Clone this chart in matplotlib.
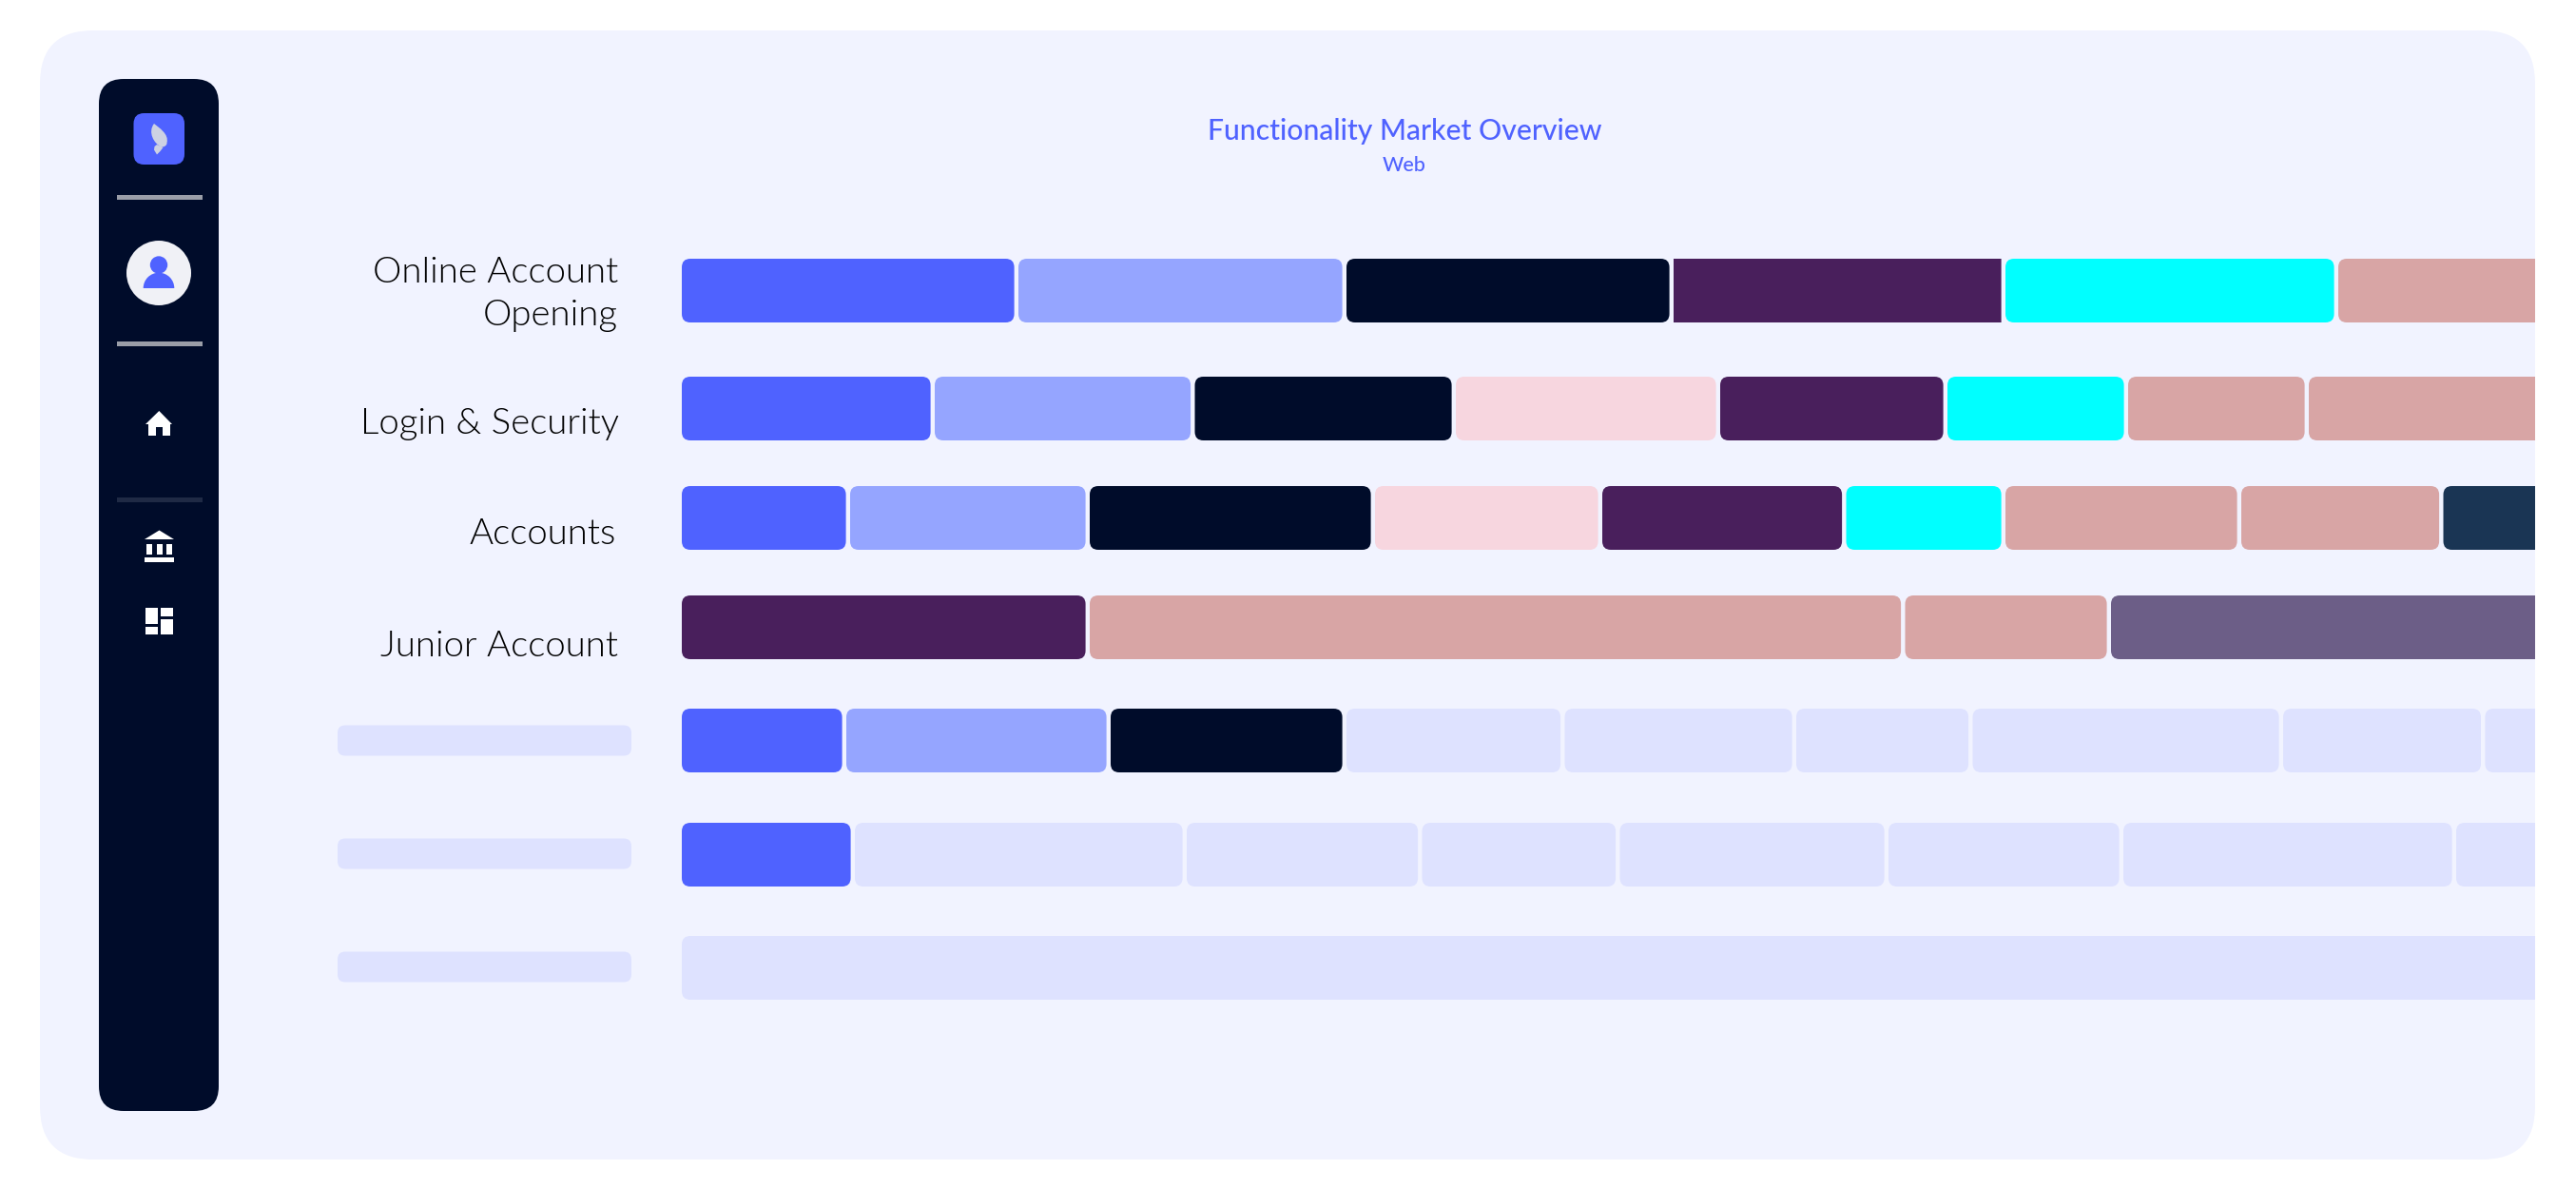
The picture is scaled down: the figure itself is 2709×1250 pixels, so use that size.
import matplotlib
matplotlib.use("Agg")
import matplotlib.pyplot as plt
from matplotlib.patches import FancyBboxPatch, Circle, Polygon, Rectangle, PathPatch, Wedge
from matplotlib.path import Path

W, H = 2709, 1250

# Colours
BLUE = "#4F62FF"
PERI = "#95A5FF"
NAVY = "#000C2A"
PINK = "#F7D6DF"
PURP = "#491F5C"
CYAN = "#00FFFF"
ROSE = "#D8A5A5"
DEEP = "#1A3554"
MAUV = "#6C5E87"
GHOST = "#DEE2FF"
PANEL = "#F1F3FF"

# Row labels and series
row_labels = ["Online Account\nOpening", "Login & Security", "Accounts", "Junior Account"]
title = "Functionality Market Overview"
subtitle = "Web"

online_widths = [354, 345, 344, 349, 350, 300]
online_colors = [BLUE, PERI, NAVY, PURP, CYAN, ROSE]
login_widths = [266, 273.5, 274.5, 278, 239, 190, 190, 300]
login_colors = [BLUE, PERI, NAVY, PINK, PURP, CYAN, ROSE, ROSE]
accounts_widths = [177, 252, 300, 239, 256.5, 167.5, 248, 212.5, 200]
accounts_colors = [BLUE, PERI, NAVY, PINK, PURP, CYAN, ROSE, ROSE, DEEP]
junior_widths = [429, 857.5, 216.5, 500]
junior_colors = [PURP, ROSE, ROSE, MAUV]
row5_widths = [173, 278, 248, 229.5, 243.5, 185.5, 326.5, 212.4, 100]
row5_colors = [BLUE, PERI, NAVY] + [GHOST] * 6
row6_widths = [182, 349, 247.5, 208, 282.5, 247, 350, 150]
row6_colors = [BLUE] + [GHOST] * 7
row7_widths = [2000]
row7_colors = [GHOST]

rows = [
    (online_widths, online_colors),
    (login_widths, login_colors),
    (accounts_widths, accounts_colors),
    (junior_widths, junior_colors),
    (row5_widths, row5_colors),
    (row6_widths, row6_colors),
    (row7_widths, row7_colors),
]

# Layout, in pixels
row_tops = [272, 396, 511, 626, 745, 865, 984]
bar_height = 67
gap = 4.4
bars_left, panel_right = 717, 2666

plt.rcParams["font.family"] = ["Lato", "DejaVu Sans"]
fig = plt.figure(figsize=(W / 100, H / 100), dpi=100, facecolor="white")

# Full figure axes in pixel coordinates for the page furniture
page = fig.add_axes([0, 0, 1, 1])
page.set_xlim(0, W)
page.set_ylim(H, 0)
page.axis("off")


def rbox(ax, x0, y0, x1, y1, r, color, **kw):
    p = FancyBboxPatch((x0, y0), x1 - x0, y1 - y0, boxstyle=f"round,pad=0,rounding_size={r}",
                       fc=color, ec="none", lw=0, **kw)
    ax.add_patch(p)
    return p


rbox(page, 42, 32, panel_right, 1219, 56, PANEL)

# Sidebar
rbox(page, 104, 83, 230, 1168, 26, NAVY)
rbox(page, 140.5, 119, 194, 173, 11, BLUE)
leaf = Path([(162, 130), (167, 134), (178, 141), (175.5, 150), (176, 153), (172, 155), (169.5, 154.5),
             (162, 151), (155, 139), (162, 130)],
            [Path.MOVETO] + [Path.CURVE4] * 9)
page.add_patch(PathPatch(leaf, fc="#CDD1E3", ec="none"))
page.add_patch(Polygon([(165, 152), (171.5, 155), (168.5, 159), (165, 162.5), (162, 157.5), (162.5, 154)],
                       fc="#CDD1E3", ec="none"))

for y, col in [(207.5, "#9A9EA8"), (361.5, "#9A9EA8"), (525.5, "#1F2A45")]:
    page.add_patch(Rectangle((123, y - 2.3), 90, 4.6, fc=col, ec="none"))

# Avatar
page.add_patch(Circle((167, 287), 34, fc="#F0F1F6", ec="none"))
page.add_patch(Circle((167, 278.5), 9.2, fc=BLUE, ec="none"))
page.add_patch(Wedge((167, 303), 16.3, 180, 360, fc=BLUE, ec="none"))

# Home icon
page.add_patch(Polygon([(167.3, 432), (181, 446), (179, 446), (179, 458), (171, 458), (171, 449),
                        (164, 449), (164, 458), (156, 458), (156, 446), (153, 446)],
                       fc="white", ec="none"))

# Bank icon
page.add_patch(Polygon([(167.5, 557.5), (183, 567), (152, 567)], fc="white", ec="none"))
for x0 in (154, 164.5, 175):
    page.add_patch(Rectangle((x0, 571.5), 6, 11.5, fc="white", ec="none"))
page.add_patch(Rectangle((152, 585.5), 31, 5, fc="white", ec="none"))

# Dashboard icon
for x0, y0, x1, y1 in [(153, 639, 166, 656), (169, 639, 182, 648), (153, 659, 166, 667), (169, 651, 182, 667)]:
    page.add_patch(Rectangle((x0, y0), x1 - x0, y1 - y0, fc="white", ec="none"))

# Title
page.text(1477, 147, title, color=BLUE, fontsize=21.7, ha="center", va="baseline", fontweight="medium")
page.text(1477, 180.5, subtitle, color=BLUE, fontsize=15.5, ha="center", va="baseline", fontweight="medium")

# Row labels
label_baselines = [297, 456, 572, 690]
label_rights = [650, 651, 648, 650]
for label, base, right in zip(row_labels, label_baselines, label_rights):
    lines = label.split("\n")
    for k, line in enumerate(lines):
        page.text(right, base + 45 * k, line, color="#000000", fontsize=27.6, ha="right", va="baseline",
                  fontweight=300)

# Placeholder labels for the unnamed rows
for y in (762.5, 881.5, 1000.5):
    rbox(page, 355, y, 664, y + 32, 8, GHOST)

# Bars live in their own axes so they get cut off at the panel edge
ax = fig.add_axes([bars_left / W, 0, (panel_right - bars_left) / W, 1])
ax.set_xlim(0, panel_right - bars_left)
ax.set_ylim(H, 0)
ax.axis("off")
ax.patch.set_alpha(0)

for r, (widths, colors) in enumerate(rows):
    left = 0
    for j, (w, c) in enumerate(zip(widths, colors)):
        # the purple block on the first row has square corners
        radius = 0.01 if (r == 0 and j == 3) else 9
        p = rbox(ax, left, row_tops[r], left + w - gap, row_tops[r] + bar_height, radius, c)
        p.set_clip_on(True)
        left += w

fig.savefig("out.png", dpi=100, facecolor="white")
